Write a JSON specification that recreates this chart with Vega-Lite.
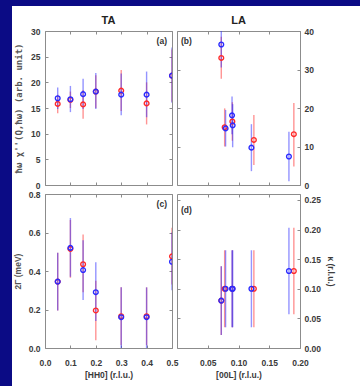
{
  "$schema": "https://vega.github.io/schema/vega-lite/v6.json",
  "background": "white",
  "padding": 0,
  "spacing": 0,
  "config": {
    "font": "Liberation Sans",
    "view": {"stroke": "#8c8c8c", "strokeWidth": 1},
    "axis": {"domain": false, "grid": false, "tickColor": "#8c8c8c", "tickSize": -3, "tickWidth": 1, "labelFont": "Liberation Sans", "labelFontWeight": "bold", "labelFontSize": 8.5, "labelColor": "#3a3a3a", "labelFlush": false, "labelOverlap": false, "titleFont": "Liberation Sans", "titleFontWeight": "bold", "titleFontSize": 8.5, "titleColor": "#3a3a3a"},
    "axisX": {"labelPadding": 13, "titlePadding": 4},
    "axisY": {"labelPadding": 8}
  },
  "vconcat": [
    {"width": 360, "height": 6, "view": {"fill": "#0b0b85", "stroke": null}, "data": {"values": [{}]}, "mark": {"type": "text", "text": "", "fontSize": 0}},
    {"spacing": 0, "hconcat": [
      {"width": 12, "height": 380, "view": {"fill": "#0b0b85", "stroke": null}, "data": {"values": [{}]}, "mark": {"type": "text", "text": "", "fontSize": 0}},
      {
        "columns": 2, "align": "each", "bounds": "flush", "spacing": {"row": 9, "column": 5},
        "concat": [
          {"width": 127, "height": 16, "view": {"stroke": null}, "data": {"values": [{}]}, "mark": {"type": "text", "text": "TA", "fontSize": 11, "fontWeight": "bold", "color": "#222222", "dy": 7}},
          {"width": 123, "height": 16, "view": {"stroke": null}, "data": {"values": [{}]}, "mark": {"type": "text", "text": "LA", "fontSize": 11, "fontWeight": "bold", "color": "#222222", "dy": 7}},
          {
            "width": 127, "height": 154,
            "data": {"values": [
              {"T": "4.2 K", "q": 0.05, "v": 15.8, "lo": 14.0, "hi": 17.6},
              {"T": "4.2 K", "q": 0.10, "v": 16.6, "lo": 15.0, "hi": 18.2},
              {"T": "4.2 K", "q": 0.15, "v": 15.7, "lo": 12.9, "hi": 18.5},
              {"T": "4.2 K", "q": 0.20, "v": 18.2, "lo": 15.0, "hi": 21.4},
              {"T": "4.2 K", "q": 0.30, "v": 18.4, "lo": 14.4, "hi": 22.4},
              {"T": "4.2 K", "q": 0.40, "v": 15.9, "lo": 11.8, "hi": 20.0},
              {"T": "4.2 K", "q": 0.50, "v": 21.3, "lo": 16.2, "hi": 26.4},
              {"T": "1.7 K", "q": 0.05, "v": 16.9, "lo": 14.8, "hi": 19.0},
              {"T": "1.7 K", "q": 0.10, "v": 16.7, "lo": 14.2, "hi": 19.3},
              {"T": "1.7 K", "q": 0.15, "v": 17.7, "lo": 14.8, "hi": 20.7},
              {"T": "1.7 K", "q": 0.20, "v": 18.2, "lo": 14.8, "hi": 21.8},
              {"T": "1.7 K", "q": 0.30, "v": 17.6, "lo": 13.6, "hi": 21.7},
              {"T": "1.7 K", "q": 0.40, "v": 17.6, "lo": 13.2, "hi": 22.1},
              {"T": "1.7 K", "q": 0.50, "v": 21.3, "lo": 16.0, "hi": 26.8}
            ]},
            "resolve": {"axis": {"x": "independent", "y": "independent"}},
            "layer": [
              {"mark": {"type": "rule", "strokeWidth": 1.4, "opacity": 0.5, "clip": true},
               "encoding": {
                 "x": {"field": "q", "type": "quantitative", "scale": {"domain": [0, 0.5]}, "axis": {"orient": "top", "labels": false, "title": null, "values": [0, 0.1, 0.2, 0.3, 0.4, 0.5]}},
                 "y": {"field": "lo", "type": "quantitative", "scale": {"domain": [0, 30]}, "axis": {"orient": "right", "labels": false, "title": null, "values": [0, 5, 10, 15, 20, 25, 30]}},
                 "y2": {"field": "hi"},
                 "color": {"field": "T", "type": "nominal", "scale": {"domain": ["4.2 K", "1.7 K"], "range": ["#ff2a2a", "#2a2aff"]}, "legend": null}}},
              {"mark": {"type": "point", "shape": "circle", "filled": false, "size": 22, "strokeWidth": 1.4, "opacity": 1, "clip": true},
               "encoding": {
                 "x": {"field": "q", "type": "quantitative", "axis": {"orient": "bottom", "labels": false, "title": null, "values": [0, 0.1, 0.2, 0.3, 0.4, 0.5]}},
                 "y": {"field": "v", "type": "quantitative", "axis": {"orient": "left", "values": [0, 5, 10, 15, 20, 25, 30], "title": "ħω χ''(Q,ħω)  (arb. unit)", "titleFont": "DejaVu Sans Mono", "titleFontSize": 9, "titleColor": "#555555", "titlePadding": 7}},
                 "color": {"field": "T", "type": "nominal", "scale": {"domain": ["4.2 K", "1.7 K"], "range": ["#ff2a2a", "#2a2aff"]}, "legend": null}}},
              {"data": {"values": [{}]},
               "mark": {"type": "text", "text": "(a)", "align": "right", "baseline": "top", "dx": -5, "dy": 6, "fontSize": 8.5, "fontWeight": "bold", "color": "#333333"},
               "encoding": {"x": {"datum": 0.5, "type": "quantitative", "axis": null}, "y": {"datum": 30, "type": "quantitative", "axis": null}}}
            ]
          },
          {
            "width": 123, "height": 154,
            "data": {"values": [
              {"T": "4.2 K", "q": 0.072, "v": 33.0, "lo": 27.6, "hi": 38.5},
              {"T": "4.2 K", "q": 0.0775, "v": 15.0, "lo": 10.0, "hi": 19.9},
              {"T": "4.2 K", "q": 0.090, "v": 16.5, "lo": 11.5, "hi": 21.5},
              {"T": "4.2 K", "q": 0.125, "v": 11.7, "lo": 5.2, "hi": 18.2},
              {"T": "4.2 K", "q": 0.190, "v": 13.2, "lo": 4.8, "hi": 21.3},
              {"T": "1.7 K", "q": 0.072, "v": 36.5, "lo": 30.5, "hi": 42.5},
              {"T": "1.7 K", "q": 0.079, "v": 14.7, "lo": 10.0, "hi": 19.5},
              {"T": "1.7 K", "q": 0.0895, "v": 18.1, "lo": 13.2, "hi": 23.0},
              {"T": "1.7 K", "q": 0.0905, "v": 15.5, "lo": 9.8, "hi": 21.0},
              {"T": "1.7 K", "q": 0.121, "v": 9.7, "lo": 3.6, "hi": 15.8},
              {"T": "1.7 K", "q": 0.182, "v": 7.4, "lo": 1.0, "hi": 13.8}
            ]},
            "resolve": {"axis": {"x": "independent", "y": "independent"}},
            "layer": [
              {"mark": {"type": "rule", "strokeWidth": 1.4, "opacity": 0.5, "clip": true},
               "encoding": {
                 "x": {"field": "q", "type": "quantitative", "scale": {"domain": [0, 0.2]}, "axis": {"orient": "top", "labels": false, "title": null, "values": [0.05, 0.1, 0.15, 0.2]}},
                 "y": {"field": "lo", "type": "quantitative", "scale": {"domain": [0, 40]}, "axis": {"orient": "left", "labels": false, "title": null, "values": [0, 10, 20, 30, 40]}},
                 "y2": {"field": "hi"},
                 "color": {"field": "T", "type": "nominal", "scale": {"domain": ["4.2 K", "1.7 K"], "range": ["#ff2a2a", "#2a2aff"]}}}},
              {"mark": {"type": "point", "shape": "circle", "filled": false, "size": 22, "strokeWidth": 1.4, "opacity": 1, "clip": true},
               "encoding": {
                 "x": {"field": "q", "type": "quantitative", "axis": {"orient": "bottom", "labels": false, "title": null, "values": [0.05, 0.1, 0.15, 0.2]}},
                 "y": {"field": "v", "type": "quantitative", "axis": {"orient": "right", "title": null, "values": [0, 10, 20, 30, 40], "labelPadding": 7}},
                 "color": {"field": "T", "type": "nominal", "scale": {"domain": ["4.2 K", "1.7 K"], "range": ["#ff2a2a", "#2a2aff"]},
                   "legend": {"orient": "none", "legendX": 86, "legendY": 12, "title": null, "padding": 0,
                     "symbolType": "M-1,0H-0.35M0.35,0H1M0.35,0A0.35,0.35,0,1,1,-0.35,0A0.35,0.35,0,1,1,0.35,0",
                     "symbolSize": 225, "symbolStrokeWidth": 1.3, "symbolFillColor": "transparent",
                     "labelFont": "Liberation Sans", "labelFontWeight": "bold", "labelFontSize": 9, "labelOffset": 3, "rowPadding": 5,
                     "encode": {"labels": {"update": {"fill": {"signal": "datum.value === '4.2 K' ? '#ff2a2a' : '#2a2aff'"}}}}}}}},
              {"data": {"values": [{}]},
               "mark": {"type": "text", "text": "(b)", "align": "left", "baseline": "top", "dx": 4, "dy": 6, "fontSize": 8.5, "fontWeight": "bold", "color": "#333333"},
               "encoding": {"x": {"datum": 0, "type": "quantitative", "axis": null}, "y": {"datum": 40, "type": "quantitative", "axis": null}}}
            ]
          },
          {
            "width": 127, "height": 154,
            "data": {"values": [
              {"T": "4.2 K", "q": 0.05, "v": 0.345, "lo": 0.195, "hi": 0.495},
              {"T": "4.2 K", "q": 0.10, "v": 0.515, "lo": 0.365, "hi": 0.665},
              {"T": "4.2 K", "q": 0.15, "v": 0.435, "lo": 0.29, "hi": 0.59},
              {"T": "4.2 K", "q": 0.20, "v": 0.195, "lo": 0.04, "hi": 0.35},
              {"T": "4.2 K", "q": 0.30, "v": 0.165, "lo": 0.015, "hi": 0.315},
              {"T": "4.2 K", "q": 0.40, "v": 0.165, "lo": 0.015, "hi": 0.315},
              {"T": "4.2 K", "q": 0.50, "v": 0.476, "lo": 0.33, "hi": 0.625},
              {"T": "1.7 K", "q": 0.05, "v": 0.345, "lo": 0.195, "hi": 0.495},
              {"T": "1.7 K", "q": 0.10, "v": 0.52, "lo": 0.37, "hi": 0.675},
              {"T": "1.7 K", "q": 0.15, "v": 0.405, "lo": 0.25, "hi": 0.56},
              {"T": "1.7 K", "q": 0.20, "v": 0.29, "lo": 0.14, "hi": 0.445},
              {"T": "1.7 K", "q": 0.30, "v": 0.16, "lo": 0.0, "hi": 0.315},
              {"T": "1.7 K", "q": 0.40, "v": 0.16, "lo": 0.0, "hi": 0.315},
              {"T": "1.7 K", "q": 0.50, "v": 0.448, "lo": 0.30, "hi": 0.60}
            ]},
            "resolve": {"axis": {"x": "independent", "y": "independent"}},
            "layer": [
              {"mark": {"type": "rule", "strokeWidth": 1.4, "opacity": 0.5, "clip": true},
               "encoding": {
                 "x": {"field": "q", "type": "quantitative", "scale": {"domain": [0, 0.5]}, "axis": {"orient": "top", "labels": false, "title": null, "values": [0, 0.1, 0.2, 0.3, 0.4, 0.5]}},
                 "y": {"field": "lo", "type": "quantitative", "scale": {"domain": [0, 0.8]}, "axis": {"orient": "right", "labels": false, "title": null, "values": [0, 0.2, 0.4, 0.6, 0.8]}},
                 "y2": {"field": "hi"},
                 "color": {"field": "T", "type": "nominal", "scale": {"domain": ["4.2 K", "1.7 K"], "range": ["#ff2a2a", "#2a2aff"]}, "legend": null}}},
              {"mark": {"type": "point", "shape": "circle", "filled": false, "size": 22, "strokeWidth": 1.4, "opacity": 1, "clip": true},
               "encoding": {
                 "x": {"field": "q", "type": "quantitative", "axis": {"orient": "bottom", "title": "[HH0] (r.l.u.)", "values": [0, 0.1, 0.2, 0.3, 0.4, 0.5], "format": ".1f"}},
                 "y": {"field": "v", "type": "quantitative", "axis": {"orient": "left", "values": [0, 0.2, 0.4, 0.6, 0.8], "format": ".1f", "title": "2Γ (meV)", "titleColor": "#555555", "titlePadding": 6}},
                 "color": {"field": "T", "type": "nominal", "scale": {"domain": ["4.2 K", "1.7 K"], "range": ["#ff2a2a", "#2a2aff"]}, "legend": null}}},
              {"data": {"values": [{}]},
               "mark": {"type": "text", "text": "(c)", "align": "right", "baseline": "top", "dx": -5, "dy": 6, "fontSize": 8.5, "fontWeight": "bold", "color": "#333333"},
               "encoding": {"x": {"datum": 0.5, "type": "quantitative", "axis": null}, "y": {"datum": 0.8, "type": "quantitative", "axis": null}}}
            ]
          },
          {
            "width": 123, "height": 154,
            "data": {"values": [
              {"T": "4.2 K", "q": 0.072, "v": 0.08, "lo": 0.022, "hi": 0.138},
              {"T": "4.2 K", "q": 0.0775, "v": 0.10, "lo": 0.035, "hi": 0.165},
              {"T": "4.2 K", "q": 0.090, "v": 0.10, "lo": 0.035, "hi": 0.165},
              {"T": "4.2 K", "q": 0.125, "v": 0.10, "lo": 0.035, "hi": 0.165},
              {"T": "4.2 K", "q": 0.190, "v": 0.13, "lo": 0.057, "hi": 0.203},
              {"T": "1.7 K", "q": 0.072, "v": 0.08, "lo": 0.022, "hi": 0.138},
              {"T": "1.7 K", "q": 0.079, "v": 0.10, "lo": 0.035, "hi": 0.165},
              {"T": "1.7 K", "q": 0.0895, "v": 0.10, "lo": 0.035, "hi": 0.165},
              {"T": "1.7 K", "q": 0.0905, "v": 0.10, "lo": 0.035, "hi": 0.165},
              {"T": "1.7 K", "q": 0.121, "v": 0.10, "lo": 0.035, "hi": 0.165},
              {"T": "1.7 K", "q": 0.182, "v": 0.13, "lo": 0.057, "hi": 0.203}
            ]},
            "resolve": {"axis": {"x": "independent", "y": "independent"}},
            "layer": [
              {"mark": {"type": "rule", "strokeWidth": 1.4, "opacity": 0.5, "clip": true},
               "encoding": {
                 "x": {"field": "q", "type": "quantitative", "scale": {"domain": [0, 0.2]}, "axis": {"orient": "top", "labels": false, "title": null, "values": [0.05, 0.1, 0.15, 0.2]}},
                 "y": {"field": "lo", "type": "quantitative", "scale": {"domain": [0, 0.25]}, "axis": {"orient": "left", "labels": false, "title": null, "values": [0, 0.05, 0.1, 0.15, 0.2, 0.25]}},
                 "y2": {"field": "hi"},
                 "color": {"field": "T", "type": "nominal", "scale": {"domain": ["4.2 K", "1.7 K"], "range": ["#ff2a2a", "#2a2aff"]}, "legend": null}}},
              {"mark": {"type": "point", "shape": "circle", "filled": false, "size": 22, "strokeWidth": 1.4, "opacity": 1, "clip": true},
               "encoding": {
                 "x": {"field": "q", "type": "quantitative", "axis": {"orient": "bottom", "title": "[00L] (r.l.u.)", "values": [0.05, 0.1, 0.15, 0.2], "format": ".2f"}},
                 "y": {"field": "v", "type": "quantitative", "axis": {"orient": "right", "values": [0, 0.05, 0.1, 0.15, 0.2, 0.25], "format": ".2f", "labelPadding": 7, "title": "κ (r.l.u.)", "titlePadding": 5}},
                 "color": {"field": "T", "type": "nominal", "scale": {"domain": ["4.2 K", "1.7 K"], "range": ["#ff2a2a", "#2a2aff"]}, "legend": null}}},
              {"data": {"values": [{}]},
               "mark": {"type": "text", "text": "(d)", "align": "left", "baseline": "top", "dx": 4, "dy": 6, "fontSize": 8.5, "fontWeight": "bold", "color": "#333333"},
               "encoding": {"x": {"datum": 0, "type": "quantitative", "axis": null}, "y": {"datum": 0.25, "type": "quantitative", "axis": null}}}
            ]
          }
        ]
      }
    ]}
  ]
}
